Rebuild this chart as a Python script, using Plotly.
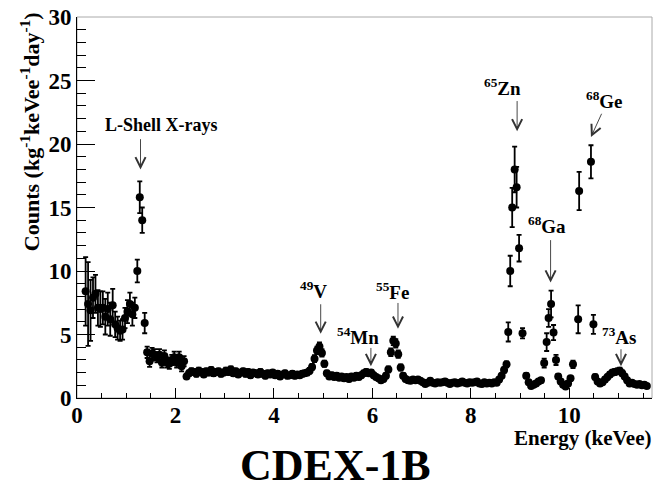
import plotly.graph_objects as go

# ---- CDEX-1B energy spectrum: bin centres (keVee), counts and 1-sigma errors ----

# Low-energy region and L-shell X-ray lines
energy_low = [0.175, 0.225, 0.275, 0.325, 0.375, 0.425, 0.475, 0.525, 0.575, 0.625,
              0.675, 0.725, 0.775, 0.825, 0.875, 0.925, 0.975, 1.025, 1.075, 1.125,
              1.175, 1.225, 1.275, 1.325, 1.375]
counts_low = [8.4, 7.4, 6.9, 7.9, 8.2, 7.1, 7.0, 7.1, 6.4, 7.0,
              6.2, 7.3, 5.8, 5.5, 5.3, 5.4, 6.3, 6.8, 7.4, 6.6,
              7.1, 10.0, 15.8, 14.0, 5.9]
errors_low = [2.7, 3.3, 2.4, 1.6, 1.5, 1.4, 1.4, 1.3, 1.4, 1.3,
              1.3, 1.3, 1.0, 0.9, 0.8, 0.8, 0.8, 0.9, 0.9, 0.9,
              0.8, 0.9, 1.25, 1.0, 0.8]

# Shoulder between 1.4 and 2.2 keVee
energy_shoulder = [1.425, 1.475, 1.525, 1.575, 1.625, 1.675, 1.725, 1.775,
                   1.825, 1.875, 1.925, 1.975, 2.025, 2.075, 2.125, 2.175]
counts_shoulder = [3.6, 2.9, 3.5, 3.4, 3.2, 3.4, 2.8, 3.3,
                   2.8, 2.7, 3.0, 3.2, 2.8, 3.2, 2.5, 2.9]
errors_shoulder = [0.45, 0.45, 0.45, 0.45, 0.4, 0.45, 0.4, 0.45,
                   0.4, 0.4, 0.4, 0.45, 0.4, 0.45, 0.4, 0.4]

# Continuum with the 49V, 54Mn and 55Fe lines (2.2 - 8.7 keVee)
energy_mid = [2.225, 2.275, 2.325, 2.375, 2.425, 2.475, 2.525, 2.575, 2.625, 2.675,
              2.725, 2.775, 2.825, 2.875, 2.925, 2.975, 3.025, 3.075, 3.125, 3.175,
              3.225, 3.275, 3.325, 3.375, 3.425, 3.475, 3.525, 3.575, 3.625, 3.675,
              3.725, 3.775, 3.825, 3.875, 3.925, 3.975, 4.025, 4.075, 4.125, 4.175,
              4.225, 4.275, 4.325, 4.375, 4.425, 4.475, 4.525, 4.575, 4.625, 4.675,
              4.725, 4.775, 4.825, 4.875, 4.925, 4.975, 5.025, 5.075, 5.125, 5.175,
              5.225, 5.275, 5.325, 5.375, 5.425, 5.475, 5.525, 5.575, 5.625, 5.675,
              5.725, 5.775, 5.825, 5.875, 5.925, 5.975, 6.025, 6.075, 6.125, 6.175,
              6.225, 6.275, 6.325, 6.375, 6.425, 6.475, 6.525, 6.575, 6.625, 6.675,
              6.725, 6.775, 6.825, 6.875, 6.925, 6.975, 7.025, 7.075, 7.125, 7.175,
              7.225, 7.275, 7.325, 7.375, 7.425, 7.475, 7.525, 7.575, 7.625, 7.675,
              7.725, 7.775, 7.825, 7.875, 7.925, 7.975, 8.025, 8.075, 8.125, 8.175,
              8.225, 8.275, 8.325, 8.375, 8.425, 8.475, 8.525, 8.575, 8.625, 8.675,
              8.725]
counts_mid = [1.70, 1.95, 2.10, 2.05, 1.90, 2.15, 2.05, 1.85, 2.10, 2.00,
              2.20, 1.95, 2.05, 2.10, 1.90, 2.00, 2.15, 2.05, 2.25, 1.95,
              2.10, 1.85, 2.00, 2.10, 1.90, 2.05, 1.80, 2.00, 1.95, 1.85,
              2.05, 1.90, 1.75, 1.95, 1.85, 2.00, 1.80, 1.90, 1.70, 1.85,
              1.95, 1.75, 1.80, 1.90, 1.75, 1.85, 1.80, 1.90, 1.95, 2.00,
              2.15, 2.45, 3.10, 3.75, 4.05, 3.55, 2.70, 1.95, 1.70, 1.80,
              1.65, 1.75, 1.60, 1.70, 1.55, 1.65, 1.50, 1.70, 1.60, 1.75,
              1.65, 1.80, 1.95, 2.05, 1.95, 2.00, 1.80, 1.65, 1.55, 1.40,
              1.50, 1.75, 2.25, 3.60, 4.50, 4.30, 3.45, 2.40, 1.75, 1.50,
              1.40, 1.35, 1.45, 1.40, 1.45, 1.35, 1.25, 1.10, 1.20, 1.35,
              1.20, 1.15, 1.25, 1.20, 1.25, 1.30, 1.20, 1.10, 1.20, 1.25,
              1.15, 1.20, 1.30, 1.20, 1.15, 1.25, 1.20, 1.25, 1.30, 1.15,
              1.10, 1.25, 1.15, 1.20, 1.15, 1.25, 1.20, 1.45, 1.75, 2.20,
              2.65]
errors_mid = [0.22, 0.22, 0.23, 0.22, 0.22, 0.23, 0.22, 0.21, 0.22, 0.22,
              0.23, 0.22, 0.22, 0.22, 0.21, 0.22, 0.23, 0.22, 0.24, 0.22,
              0.22, 0.21, 0.22, 0.22, 0.21, 0.22, 0.21, 0.22, 0.22, 0.21,
              0.22, 0.21, 0.20, 0.21, 0.21, 0.22, 0.20, 0.21, 0.20, 0.21,
              0.21, 0.20, 0.20, 0.21, 0.20, 0.21, 0.20, 0.21, 0.21, 0.22,
              0.22, 0.24, 0.27, 0.30, 0.32, 0.29, 0.25, 0.21, 0.20, 0.20,
              0.19, 0.20, 0.19, 0.20, 0.19, 0.19, 0.18, 0.20, 0.19, 0.20,
              0.19, 0.20, 0.21, 0.22, 0.21, 0.21, 0.20, 0.19, 0.18, 0.17,
              0.18, 0.20, 0.23, 0.30, 0.34, 0.33, 0.29, 0.24, 0.20, 0.18,
              0.17, 0.17, 0.17, 0.17, 0.17, 0.17, 0.16, 0.15, 0.16, 0.17,
              0.16, 0.15, 0.16, 0.16, 0.16, 0.16, 0.16, 0.15, 0.16, 0.16,
              0.15, 0.16, 0.16, 0.16, 0.15, 0.16, 0.16, 0.16, 0.16, 0.15,
              0.15, 0.16, 0.15, 0.16, 0.15, 0.16, 0.16, 0.17, 0.19, 0.22,
              0.24]

# 65Zn K-shell line
energy_zn = [8.76, 8.80, 8.84, 8.89, 8.93, 8.98, 9.05]
counts_zn = [5.2, 10.0, 15.0, 18.0, 16.6, 11.8, 5.1]
errors_zn = [0.75, 1.2, 1.55, 1.8, 1.6, 1.05, 0.4]

# Continuum between the Zn and Ga lines
energy_gap1 = [9.125, 9.175, 9.225, 9.275, 9.325, 9.375, 9.425]
counts_gap1 = [1.75, 1.25, 0.95, 1.05, 1.15, 1.30, 1.40]
errors_gap1 = [0.2, 0.18, 0.16, 0.17, 0.17, 0.18, 0.19]

# 68Ga K-shell line
energy_ga = [9.49, 9.54, 9.58, 9.63, 9.68, 9.73]
counts_ga = [2.75, 4.4, 6.3, 7.4, 5.15, 3.0]
errors_ga = [0.35, 0.7, 0.7, 1.05, 0.6, 0.4]

# Continuum between the Ga and Ge lines
energy_gap2 = [9.775, 9.825, 9.875, 9.925, 9.975, 10.025, 10.075]
counts_gap2 = [1.70, 1.30, 1.05, 0.90, 1.15, 1.55, 2.65]
errors_gap2 = [0.2, 0.18, 0.17, 0.16, 0.17, 0.19, 0.3]

# 68Ge K-shell line
energy_ge = [10.18, 10.20, 10.44, 10.49]
counts_ge = [6.2, 16.3, 18.6, 5.8]
errors_ge = [1.1, 1.5, 1.3, 0.75]

# High-energy tail with the 73As line
energy_high = [10.525, 10.575, 10.625, 10.675, 10.725, 10.775, 10.825, 10.875,
               10.925, 10.975, 11.025, 11.075, 11.125, 11.175, 11.225, 11.275,
               11.325, 11.375, 11.425, 11.475, 11.525, 11.575]
counts_high = [1.65, 1.30, 1.15, 1.25, 1.45, 1.65, 1.85, 2.00,
               2.05, 2.10, 2.15, 1.95, 1.70, 1.40, 1.15, 1.20,
               1.10, 1.05, 1.10, 1.00, 1.05, 0.95]
errors_high = [0.2, 0.18, 0.17, 0.18, 0.19, 0.2, 0.21, 0.22,
               0.22, 0.22, 0.23, 0.22, 0.2, 0.19, 0.17, 0.17,
               0.17, 0.16, 0.17, 0.16, 0.16, 0.15]

# Line labels: (text, label x, label y, arrow tip x, tip y, arrow tail x, tail y)
line_labels = [
    ("L-Shell X-rays", 1.71, 21.5, 1.29, 18.0, 1.29, 20.5),
    ("<sup>49</sup>V", 4.80, 8.5, 4.95, 5.05, 4.95, 7.5),
    ("<sup>54</sup>Mn", 5.70, 4.9, 5.97, 2.5, 5.97, 4.06),
    ("<sup>55</sup>Fe", 6.41, 8.45, 6.52, 5.45, 6.52, 7.6),
    ("<sup>65</sup>Zn", 8.64, 24.45, 8.94, 21.0, 8.94, 23.5),
    ("<sup>68</sup>Ga", 9.55, 13.6, 9.62, 9.09, 9.62, 12.55),
    ("<sup>68</sup>Ge", 10.72, 23.5, 10.44, 20.55, 10.67, 22.5),
    ("<sup>73</sup>As", 11.0, 4.9, 11.05, 2.5, 11.05, 3.96),
]

x_ticks = [0, 2, 4, 6, 8, 10]
y_ticks = [0, 5, 10, 15, 20, 25, 30]

energy = (energy_low + energy_shoulder + energy_mid + energy_zn + energy_gap1
          + energy_ga + energy_gap2 + energy_ge + energy_high)
counts = (counts_low + counts_shoulder + counts_mid + counts_zn + counts_gap1
          + counts_ga + counts_gap2 + counts_ge + counts_high)
errors = (errors_low + errors_shoulder + errors_mid + errors_zn + errors_gap1
          + errors_ga + errors_gap2 + errors_ge + errors_high)

SERIF = "Liberation Serif, Times New Roman, serif"

fig = go.Figure()
fig.add_trace(go.Scatter(
    x=energy, y=counts, mode="markers",
    marker=dict(symbol="circle", size=8, color="black"),
    error_y=dict(type="data", array=errors, visible=True,
                 color="black", thickness=1.8, width=2.5),
    showlegend=False, hoverinfo="x+y",
))

annotations = []
for text, lx, ly, tx, ty, ax, ay in line_labels:
    annotations.append(dict(
        x=lx, y=ly, xref="x", yref="y", text=text, showarrow=False,
        font=dict(family=SERIF, size=18 if text.startswith("L") else 19,
                  color="black", weight="bold"),
        xanchor="center", yanchor="middle",
    ))
    annotations.append(dict(
        x=tx, y=ty, ax=ax, ay=ay, xref="x", yref="y", axref="x", ayref="y",
        text="", showarrow=True, arrowhead=5, arrowsize=2.2, arrowwidth=0.9,
        arrowcolor="#333333", standoff=0, startstandoff=0,
    ))

# Axis titles and figure caption
annotations.append(dict(
    xref="paper", yref="paper", x=-0.082, y=0.70,
    text="Counts (kg<sup>-1</sup>keVee<sup>-1</sup>day<sup>-1</sup>)",
    textangle=-90, showarrow=False, xanchor="center", yanchor="middle",
    font=dict(family=SERIF, size=22, color="black", weight="bold"),
))
annotations.append(dict(
    xref="paper", yref="paper", x=1.002, y=-0.106,
    text="Energy (keVee)", showarrow=False, xanchor="right", yanchor="middle",
    font=dict(family=SERIF, size=21, color="black", weight="bold"),
))
annotations.append(dict(
    xref="paper", yref="paper", x=0.45, y=-0.178,
    text="CDEX-1B", showarrow=False, xanchor="center", yanchor="middle",
    font=dict(family=SERIF, size=44, color="black", weight="bold"),
))

fig.update_layout(
    width=657, height=490,
    margin=dict(l=77, r=5, t=15, b=92),
    paper_bgcolor="white", plot_bgcolor="white",
    annotations=annotations,
    shapes=[dict(type="rect", xref="paper", yref="paper", x0=0, y0=0, x1=1, y1=1,
                 line=dict(color="#aaaaaa", width=1), layer="below")],
)
fig.update_xaxes(
    range=[0, 11.68], tickvals=x_ticks, ticktext=[str(v) for v in x_ticks],
    ticks="inside", ticklen=10, tickwidth=1, tickcolor="black",
    showline=True, linecolor="black", linewidth=1, showgrid=False, zeroline=False,
    tickfont=dict(family=SERIF, size=23, color="black", weight="bold"),
    ticklabelstandoff=-4,
    minor=dict(ticks="inside", ticklen=5, dtick=0.5, tick0=0, tickcolor="black"),
)
fig.update_yaxes(
    range=[0, 30], tickvals=y_ticks, ticktext=[str(v) for v in y_ticks],
    ticks="inside", ticklen=18, tickwidth=1, tickcolor="black",
    showline=True, linecolor="black", linewidth=1, showgrid=False, zeroline=False,
    tickfont=dict(family=SERIF, size=23, color="black", weight="bold"),
    minor=dict(ticks="inside", ticklen=9, dtick=1, tick0=0, tickcolor="black"),
)

fig.write_html("out.html")
